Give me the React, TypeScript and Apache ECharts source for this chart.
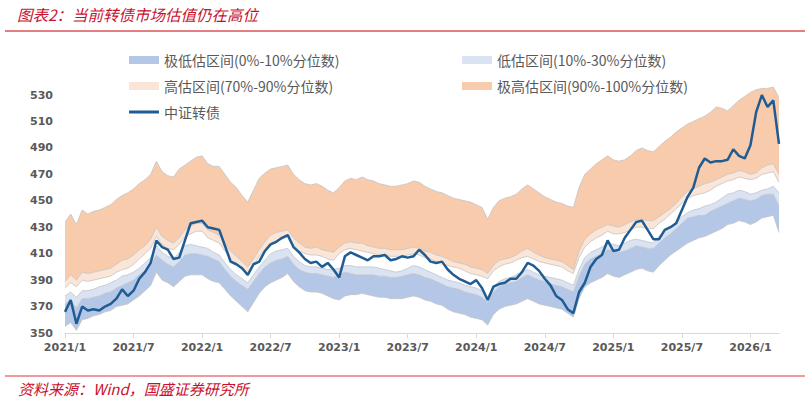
import { useEffect, useRef } from "react";
import * as echarts from "echarts";

// Semi-monthly observation dates, 2021-01-01 .. 2026-03-16
const dates: string[] = [];
for (let y = 2021; y <= 2026; y++) {
  for (let m = 1; m <= 12; m++) {
    if (y === 2026 && m > 3) break;
    for (const d of [1, 16]) {
      dates.push(`${y}-${String(m).padStart(2, "0")}-${String(d).padStart(2, "0")}`);
    }
  }
}

// 中证转债 index level
const cbIndex = [
  366, 375, 357, 370, 367, 368, 367, 370, 372, 376,
  383, 378, 382, 391, 396, 403, 420, 415, 413, 406,
  407, 420, 433, 434, 435, 430, 429, 428, 416, 404,
  402, 399, 394, 402, 404, 412, 417, 419, 422, 424,
  415, 411, 406, 403, 404, 400, 403, 398, 392, 408,
  411, 409, 407, 405, 408, 408, 409, 405, 406, 408,
  407, 408, 413, 409, 404, 403, 404, 398, 394, 391,
  389, 387, 390, 384, 375, 385, 387, 388, 391, 391,
  396, 403, 401, 397, 391, 386, 378, 375, 368, 365,
  381, 388, 400, 406, 409, 420, 412, 413, 422, 428,
  434, 435, 428, 421, 421, 428, 430, 433, 443, 453,
  460, 475, 482, 479, 480, 480, 481, 489, 484, 482,
  492, 517, 530, 521, 526, 493,
];

// Valuation percentile boundaries (index-equivalent levels)
const p100 = [
  434, 440, 432, 443, 440, 442, 443, 445, 447, 451,
  454, 456, 459, 463, 466, 470, 480, 472, 469, 468,
  474, 477, 480, 483, 484, 478, 476, 476, 470, 464,
  460, 454, 449, 458, 467, 471, 474, 475, 476, 477,
  470, 466, 463, 462, 463, 461, 458, 456, 460, 465,
  467, 466, 468, 466, 465, 463, 462, 461, 461, 462,
  463, 465, 464, 461, 459, 457, 456, 454, 452, 451,
  450, 449, 447, 445, 436, 445, 450, 452, 453, 455,
  459, 462, 459, 456, 453, 451, 449, 448, 446, 445,
  460, 470, 474, 478, 481, 484, 481, 480, 481, 484,
  488, 490, 488, 487, 491, 495, 498, 502, 505, 508,
  510, 512, 514, 517, 521, 520, 518, 522, 526, 529,
  532, 534, 535, 535, 536, 528,
];
const p90 = [
  389, 394, 390, 396, 395, 396, 397, 398, 399, 402,
  405, 406, 409, 413, 416, 421, 430, 423, 420, 418,
  422, 428, 431, 433, 433, 428, 426, 424, 418, 412,
  408, 404, 400, 406, 413, 419, 424, 426, 427, 428,
  422, 418, 415, 414, 415, 413, 412, 411, 415, 418,
  419, 418, 418, 416, 415, 414, 414, 413, 413, 413,
  414, 415, 414, 412, 411, 409, 408, 406, 404, 403,
  402, 400, 399, 398, 395, 401, 405, 406, 407, 409,
  412, 414, 411, 409, 407, 406, 405, 404, 401, 398,
  412, 421, 425, 428, 430, 432, 431, 430, 432, 434,
  436, 436, 435, 435, 438, 441, 444, 448, 453, 457,
  459, 461, 463, 464, 466, 468, 470, 471, 473, 472,
  470, 471, 475, 477, 478, 470,
];
const p70 = [
  384, 388, 385, 390, 389, 390, 391, 392, 393, 396,
  398, 399, 402, 406, 410, 414, 423, 417, 414, 413,
  417, 423, 425, 427, 427, 422, 420, 418, 412, 406,
  402, 398, 395, 401, 408, 413, 418, 420, 421, 423,
  417, 412, 410, 409, 409, 408, 406, 405, 410, 413,
  414, 413, 412, 411, 410, 409, 409, 408, 408, 408,
  409, 410, 409, 407, 406, 404, 403, 401, 400, 399,
  397, 395, 394, 393, 391, 397, 400, 402, 403, 405,
  407, 408, 406, 404, 403, 402, 401, 400, 397, 395,
  407, 415, 419, 422, 424, 427, 425, 425, 426, 428,
  430, 430, 429, 429, 433, 436, 440, 444, 448, 452,
  454, 455, 456, 458, 461, 463, 465, 466, 468, 467,
  466, 467, 470, 471, 472, 464,
];
const p30 = [
  378, 381, 377, 382, 382, 383, 385, 386, 388, 390,
  393, 394, 396, 399, 403, 407, 416, 411, 408, 406,
  411, 416, 417, 416, 415, 414, 411, 409, 403, 398,
  394, 391, 388, 394, 400, 405, 410, 412, 413, 414,
  408, 404, 401, 400, 400, 399, 398, 398, 399, 401,
  401, 400, 400, 400, 400, 399, 398, 397, 396, 397,
  399, 401, 400, 398, 396, 394, 392, 390, 389, 388,
  386, 385, 384, 382, 377, 385, 389, 391, 392, 394,
  396, 398, 396, 394, 393, 392, 391, 390, 388, 386,
  398, 407, 411, 413, 415, 418, 417, 416, 418, 420,
  421, 420, 419, 418, 423, 427, 430, 434, 438, 441,
  443, 444, 446, 447, 449, 452, 455, 456, 458, 457,
  455, 456, 458, 459, 461, 456,
];
const p10 = [
  372, 375, 369, 376, 376, 377, 378, 380, 381, 384,
  386, 388, 390, 394, 397, 401, 409, 405, 402, 400,
  404, 409, 410, 410, 409, 408, 406, 404, 398, 393,
  389, 386, 383, 389, 395, 400, 403, 405, 406, 408,
  402, 398, 396, 395, 395, 394, 393, 392, 394, 396,
  395, 394, 394, 394, 394, 393, 393, 392, 392, 393,
  394, 395, 394, 392, 391, 389, 387, 385, 384, 383,
  381, 380, 379, 377, 373, 381, 385, 387, 388, 389,
  392, 394, 392, 390, 389, 387, 386, 385, 383, 381,
  393, 402, 406, 408, 410, 413, 412, 411, 412, 414,
  416, 415, 414, 414, 418, 422, 425, 429, 433, 437,
  438, 439, 439, 442, 444, 446, 448, 450, 452, 451,
  450, 451, 454, 455, 455, 446,
];
const p0 = [
  355, 358, 352, 360, 361, 363, 364, 366, 367, 370,
  371, 372, 375, 378, 382, 386, 396, 390, 388, 385,
  389, 393, 394, 394, 394, 391, 389, 388, 383, 378,
  374, 370, 366, 373, 380, 385, 388, 390, 392, 395,
  389, 385, 382, 381, 381, 380, 378, 376, 375, 378,
  379, 379, 380, 379, 378, 377, 377, 376, 376, 376,
  377, 378, 377, 375, 374, 372, 371, 368, 366, 365,
  364, 362, 361, 360, 356, 364, 368, 370, 371, 372,
  374, 376, 374, 372, 371, 370, 369, 368, 365, 362,
  376, 385, 388, 390, 392, 395, 393, 392, 394, 396,
  398, 399, 397, 396, 401, 405, 409, 412, 415, 418,
  420, 422, 423, 425, 427, 429, 432, 433, 435, 434,
  432, 434, 437, 438, 439, 426,
];

const yTicks = { min: 350, max: 540, step: 20 };

const NAME_VLOW = "极低估区间(0%-10%分位数)";
const NAME_LOW = "低估区间(10%-30%分位数)";
const NAME_HIGH = "高估区间(70%-90%分位数)";
const NAME_VHIGH = "极高估区间(90%-100%分位数)";
const NAME_IDX = "中证转债";

const C_VLOW = "#B4C7E7";
const C_LOW = "#DAE3F3";
const C_HIGH = "#FBE5D6";
const C_VHIGH = "#F8CBAD";
const C_IDX = "#1F5C93";
const RED = "#C8102E";

const diff = (a: number[], b: number[]) => a.map((v, i) => +(v - b[i]).toFixed(2));
const isHalfYear = (v: string) => v.endsWith("-01-01") || v.endsWith("-07-01");

export default function App() {
  const ref = useRef<HTMLDivElement>(null);

  useEffect(() => {
    if (!ref.current) return;
    const chart = echarts.init(ref.current, undefined, { renderer: "svg" });
    const edge = { color: "#C4C4C4", width: 0.8 };
    const band = (name: string, data: number[], fill: string | null) => ({
      name,
      type: "line",
      stack: "band",
      data,
      symbol: "none",
      silent: true,
      lineStyle: edge,
      itemStyle: { color: fill || "#ffffff" },
      ...(fill ? { areaStyle: { color: fill, opacity: 1 } } : {}),
    });
    const legendText = {
      color: "#595959",
      fontSize: 14,
      fontFamily: '"Noto Sans CJK SC", sans-serif',
    };
    const legendItem = (left: number, top: number, name: string, color: string, h = 8) => ({
      left,
      top,
      padding: 0,
      itemWidth: 30,
      itemHeight: h,
      selectedMode: false,
      textStyle: legendText,
      data: [{ name, icon: "rect", itemStyle: { color, borderWidth: 0 } }],
    });

    chart.setOption({
      animation: false,
      grid: { left: 65, right: 31, top: 81.8, bottom: 68, containLabel: false },
      legend: [
        legendItem(129, 53, NAME_VLOW, C_VLOW),
        legendItem(462, 53, NAME_LOW, C_LOW),
        legendItem(129, 79, NAME_HIGH, C_HIGH),
        legendItem(462, 79, NAME_VHIGH, C_VHIGH),
        legendItem(129, 105, NAME_IDX, C_IDX, 3),
      ],
      xAxis: {
        type: "category",
        data: dates,
        boundaryGap: false,
        axisLine: { lineStyle: { color: "#D9D9D9", width: 1 } },
        axisTick: {
          show: true,
          length: 5,
          interval: (_i: number, v: string) => isHalfYear(v),
          lineStyle: { color: "#D9D9D9" },
        },
        axisLabel: {
          interval: (_i: number, v: string) => isHalfYear(v),
          formatter: (v: string) => `${v.slice(0, 4)}/${Number(v.slice(5, 7))}`,
          color: "#595959",
          fontWeight: "bold",
          fontSize: 11,
          fontFamily: '"DejaVu Sans", sans-serif',
          margin: 9,
        },
        splitLine: { show: false },
      },
      yAxis: {
        type: "value",
        min: yTicks.min,
        max: yTicks.max,
        interval: yTicks.step,
        axisLine: { show: false },
        axisTick: { show: false },
        splitLine: { show: false },
        axisLabel: {
          showMaxLabel: false,
          color: "#595959",
          fontWeight: "bold",
          fontSize: 11,
          fontFamily: '"DejaVu Sans", sans-serif',
          margin: 12,
        },
      },
      series: [
        band("p0", p0, null),
        band(NAME_VLOW, diff(p10, p0), C_VLOW),
        band(NAME_LOW, diff(p30, p10), C_LOW),
        band("mid", diff(p70, p30), null),
        band(NAME_HIGH, diff(p90, p70), C_HIGH),
        band(NAME_VHIGH, diff(p100, p90), C_VHIGH),
        {
          name: NAME_IDX,
          type: "line",
          data: cbIndex,
          symbol: "none",
          z: 5,
          lineStyle: { color: C_IDX, width: 2.5 },
          itemStyle: { color: C_IDX },
        },
      ],
      graphic: [
        {
          type: "text",
          x: 17,
          y: 14,
          style: {
            text: "图表2：当前转债市场估值仍在高位",
            fill: RED,
            font: 'italic 15.5px "Noto Sans CJK SC", sans-serif',
            verticalAlign: "middle",
          },
        },
        {
          type: "line",
          shape: { x1: 5, y1: 31, x2: 805, y2: 31 },
          style: { stroke: "#D9545A", lineWidth: 1.5 },
        },
        {
          type: "line",
          shape: { x1: 5, y1: 376, x2: 805, y2: 376 },
          style: { stroke: "#E0353B", lineWidth: 1 },
        },
        {
          type: "text",
          x: 18,
          y: 388,
          style: {
            text: "资料来源：Wind，国盛证券研究所",
            fill: RED,
            font: 'italic 15px "Noto Sans CJK SC", sans-serif',
            verticalAlign: "middle",
          },
        },
      ],
    });
    return () => chart.dispose();
  }, []);

  return (
    <div
      ref={ref}
      style={{ position: "fixed", left: 0, top: 0, width: 810, height: 401, background: "#fff" }}
    />
  );
}
